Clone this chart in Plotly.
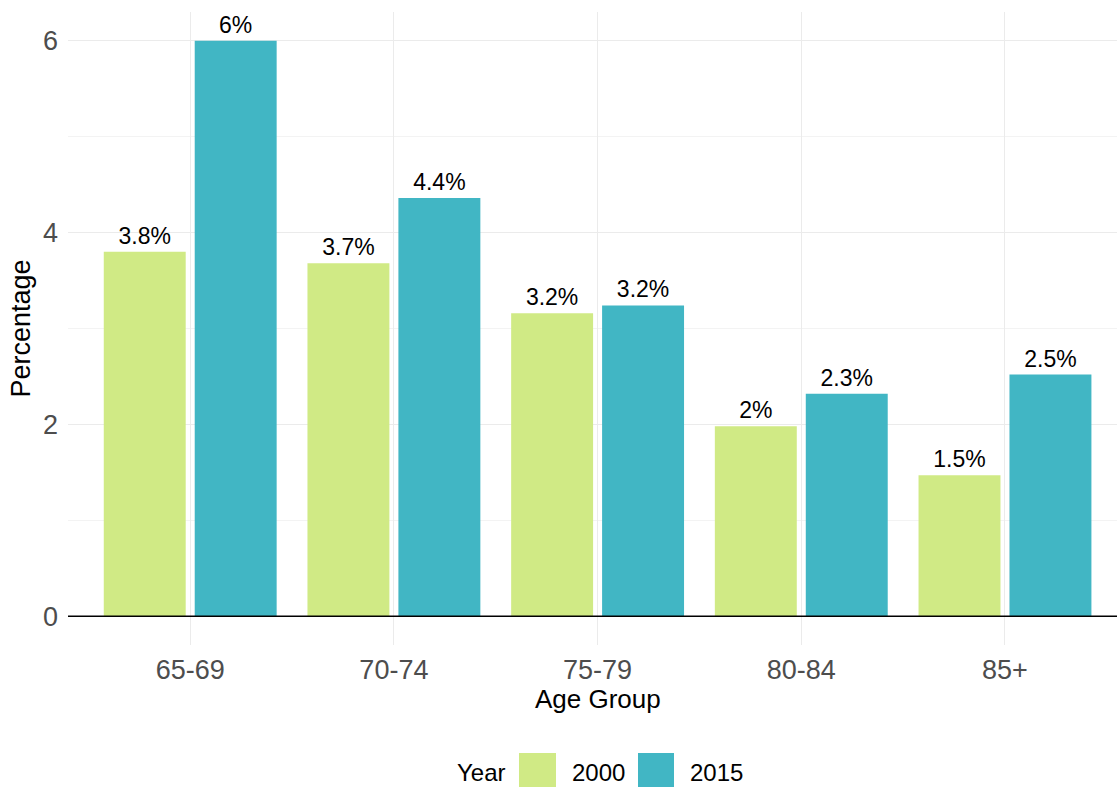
import plotly.graph_objects as go

age_groups = ["65-69", "70-74", "75-79", "80-84", "85+"]
years = ["2000", "2015"]
values_2000 = [3.80, 3.68, 3.16, 1.98, 1.47]
values_2015 = [6.00, 4.36, 3.24, 2.32, 2.52]
colors = {"2000": "#D0EA85", "2015": "#41B6C4"}
y_ticks = [0, 2, 4, 6]

W, H = 1117, 787
ML, MR, MT, MB = 68, 0, 12, 142
PW, PH = W - ML - MR, H - MT - MB
FONT = "Liberation Sans, Arial, sans-serif"


def label(v):
    return f"{round(v, 1):g}%"


fig = go.Figure()
for yr, vals in zip(years, [values_2000, values_2015]):
    fig.add_trace(go.Bar(
        x=age_groups, y=vals, name=yr,
        marker=dict(color=colors[yr], line=dict(width=0)),
        text=[label(v) for v in vals], textposition="outside",
        textfont=dict(family=FONT, size=23, color="black"),
        cliponaxis=False, showlegend=False,
    ))

fig.add_hline(y=0, line=dict(color="black", width=1.6))


def px_x(p):
    return (p - ML) / PW


def px_y(p):
    return (MT + PH - p) / PH


# x-axis title (centred on the full ggplot panel)
fig.add_annotation(text="Age Group", x=px_x(598), y=px_y(699), xanchor="center", yanchor="middle",
                   xref="paper", yref="paper", showarrow=False,
                   font=dict(family=FONT, size=26, color="black"))

# manual legend (ggplot style, bottom)
fig.add_annotation(text="Year", x=px_x(455), y=px_y(772), xanchor="left", yanchor="middle",
                   xref="paper", yref="paper", showarrow=False,
                   font=dict(family=FONT, size=24, color="black"))
sw = [(519, 556, "2000", 570), (638, 674, "2015", 688)]
for x0, x1, yr, tx in sw:
    fig.add_shape(type="rect", xref="paper", yref="paper",
                  x0=px_x(x0), x1=px_x(x1), y0=px_y(753), y1=px_y(790),
                  fillcolor=colors[yr], line=dict(width=0), layer="above")
    fig.add_annotation(text=yr, x=px_x(tx), y=px_y(772), xanchor="left", yanchor="middle",
                       xref="paper", yref="paper", showarrow=False,
                       font=dict(family=FONT, size=24, color="black"))

fig.update_layout(
    width=W, height=H,
    margin=dict(l=ML, r=MR, t=MT, b=MB, pad=0, autoexpand=False),
    paper_bgcolor="white", plot_bgcolor="white",
    barmode="group", bargap=0.107, bargroupgap=0.099,
    font=dict(family=FONT),
    xaxis=dict(
        type="category", range=[-0.6, 4.55], automargin=False,
        showgrid=True, gridcolor="#EBEBEB", gridwidth=1.1,
        zeroline=False, showline=False, ticks="", ticklabelstandoff=6,
        tickfont=dict(family=FONT, size=27, color="#4D4D4D"),
    ),
    yaxis=dict(
        range=[-0.3, 6.3], tickvals=y_ticks, automargin=False,
        showgrid=True, gridcolor="#EBEBEB", gridwidth=1.1,
        minor=dict(tickvals=[1, 3, 5], showgrid=True, gridcolor="#F3F3F3", gridwidth=0.8),
        zeroline=False, showline=False, ticks="", ticklabelstandoff=9,
        tickfont=dict(family=FONT, size=27, color="#4D4D4D"),
        title=dict(text="Percentage", font=dict(family=FONT, size=27, color="black"), standoff=4),
    ),
)

fig.write_html("out.html", config={"displayModeBar": False},
               post_script="document.body.style.margin='0';")
